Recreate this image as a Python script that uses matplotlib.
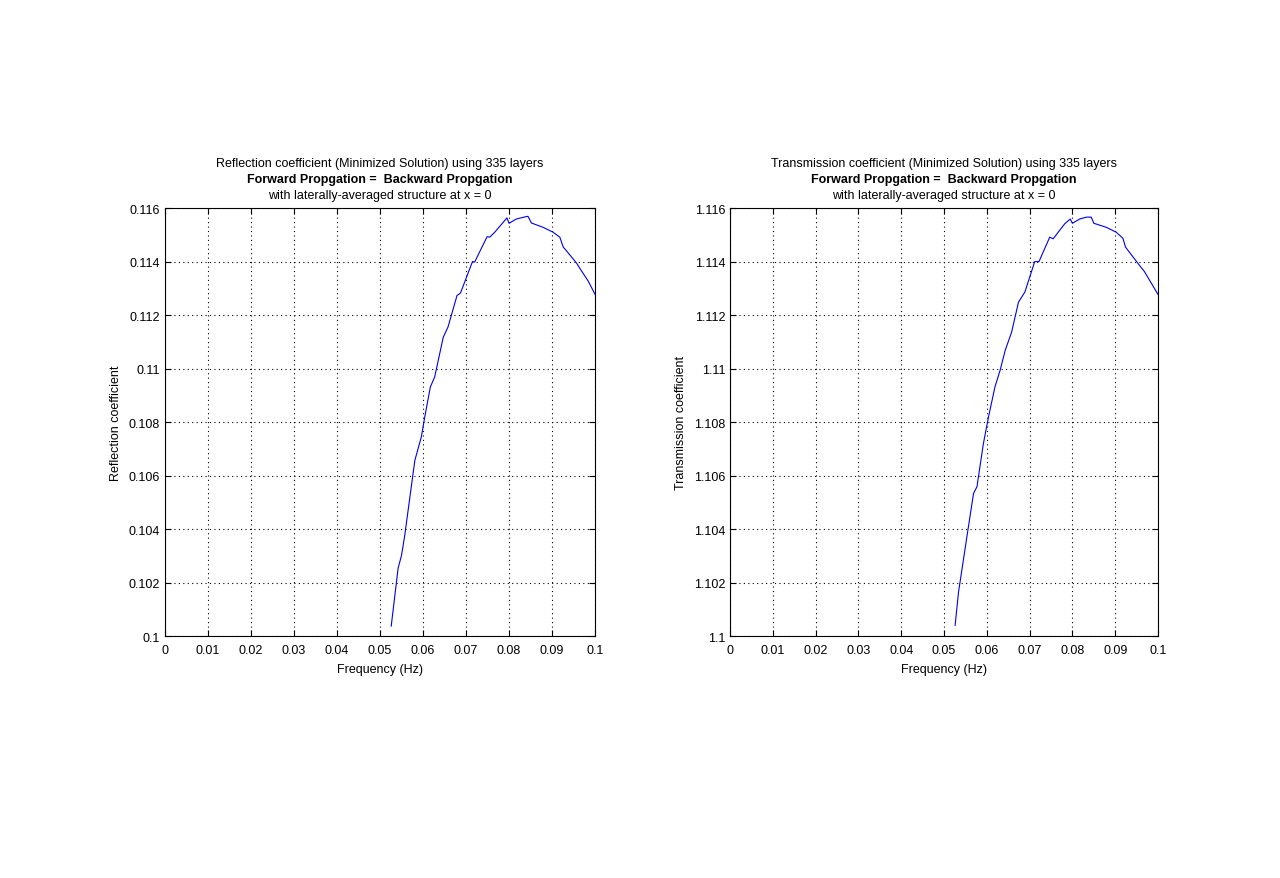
import matplotlib.pyplot as plt
from matplotlib.ticker import FuncFormatter

# frequency / reflection values
freq_r = [0.0526, 0.0542, 0.0550, 0.0557, 0.0569, 0.0581, 0.0596, 0.0604, 0.0617,
          0.0627, 0.0647, 0.0658, 0.0679, 0.0687, 0.0715, 0.0720, 0.0749, 0.0755,
          0.0767, 0.0795, 0.0800, 0.0817, 0.0840, 0.0844, 0.0852, 0.0879, 0.0902,
          0.0918, 0.0926, 0.0933, 0.0957, 0.0968, 0.0984, 0.1000]
refl = [0.10037, 0.10253, 0.10302, 0.10371, 0.10514, 0.10657, 0.10744, 0.10819, 0.10931,
        0.10968, 0.11117, 0.11155, 0.11273, 0.11282, 0.11400, 0.11398, 0.11493, 0.11491,
        0.11510, 0.11563, 0.11543, 0.11559, 0.11568, 0.11569, 0.11544, 0.11528, 0.11510,
        0.11491, 0.11454, 0.11441, 0.11394, 0.11366, 0.11327, 0.11277]

# frequency / transmission values
freq_t = [0.0526, 0.0534, 0.0557, 0.0569, 0.0577, 0.0592, 0.0604, 0.0619, 0.0631,
          0.0643, 0.0658, 0.0674, 0.0689, 0.0712, 0.0722, 0.0747, 0.0755, 0.0782,
          0.0795, 0.0800, 0.0817, 0.0833, 0.0844, 0.0850, 0.0879, 0.0902, 0.0918,
          0.0924, 0.0957, 0.0968, 0.1000]
trans = [1.10040, 1.10165, 1.10408, 1.10533, 1.10558, 1.10719, 1.10819, 1.10931, 1.10993,
         1.11068, 1.11136, 1.11248, 1.11286, 1.11400, 1.11400, 1.11491, 1.11485, 1.11541,
         1.11559, 1.11543, 1.11559, 1.11566, 1.11566, 1.11543, 1.11528, 1.11510, 1.11487,
         1.11454, 1.11385, 1.11363, 1.11277]

xticks = [0, 0.01, 0.02, 0.03, 0.04, 0.05, 0.06, 0.07, 0.08, 0.09, 0.1]
yticks_r = [0.1, 0.102, 0.104, 0.106, 0.108, 0.11, 0.112, 0.114, 0.116]
yticks_t = [1.1, 1.102, 1.104, 1.106, 1.108, 1.11, 1.112, 1.114, 1.116]

plt.rcParams['font.family'] = ['Liberation Sans', 'DejaVu Sans']
plt.rcParams['font.size'] = 9

fig = plt.figure(figsize=(12.8, 8.79), dpi=100)

fmt = FuncFormatter(lambda v, p: ('%.3f' % v).rstrip('0').rstrip('.'))


def panel(rect, x, y, yticks, name, ylab):
    ax = fig.add_axes(rect)
    ax.plot(x, y, color='#0000ee', linewidth=0.8)
    ax.set_xlim(0, 0.1)
    ax.set_ylim(yticks[0], yticks[-1])
    ax.set_xticks(xticks)
    ax.set_yticks(yticks)
    ax.xaxis.set_major_formatter(fmt)
    ax.yaxis.set_major_formatter(fmt)
    ax.tick_params(direction='in', top=True, right=True, length=4, labelsize=9)
    ax.tick_params(axis='x', pad=6)
    ax.grid(True, linestyle=(0, (1, 3)), color='black', linewidth=0.8)
    for s in ax.spines.values():
        s.set_linewidth(0.8)
    ax.set_xlabel('Frequency (Hz)', fontsize=9, labelpad=5)
    ax.set_ylabel(ylab, fontsize=9, labelpad=5)
    ax.text(0.5, 1.105, name + ' coefficient (Minimized Solution) using 335 layers',
            transform=ax.transAxes, ha='center', va='center', fontsize=9)
    ax.text(0.5, 1.068, 'Forward Propgation =  Backward Propgation',
            transform=ax.transAxes, ha='center', va='center', fontsize=9, fontweight='bold')
    ax.text(0.5, 1.031, 'with laterally-averaged structure at x = 0',
            transform=ax.transAxes, ha='center', va='center', fontsize=9)
    return ax


panel([0.1289, 0.2753, 0.336, 0.4869], freq_r, refl, yticks_r,
      'Reflection', 'Reflection coefficient')
panel([0.5703, 0.2753, 0.3344, 0.4869], freq_t, trans, yticks_t,
      'Transmission', 'Transmission coefficient')

fig.savefig('out.png', dpi=100)
